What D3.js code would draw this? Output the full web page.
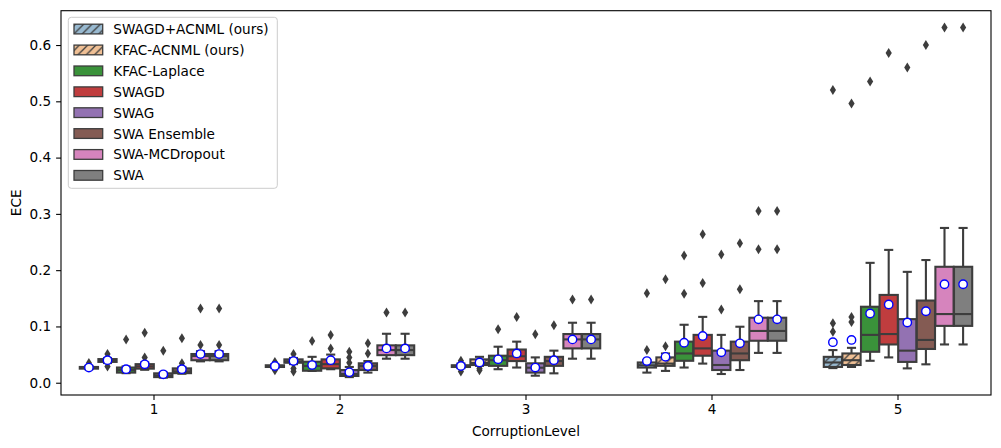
<!DOCTYPE html>
<html><head><meta charset="utf-8">
<script src="https://cdn.jsdelivr.net/npm/d3@7"></script>
<style>body{margin:0;background:#fff}svg{display:block}text{font-family:"DejaVu Sans",sans-serif}</style>
</head><body><svg id="c" width="1001" height="448"></svg>
<script>
const levels = ["1","2","3","4","5"];
const methods = ["SWAGD+ACNML (ours)","KFAC-ACNML (ours)","KFAC-Laplace","SWAGD","SWAG","SWA Ensemble","SWA-MCDropout","SWA"];
const colors = ["#98b9d0","#f0c095","#3a923a","#c03d3e","#9372b2","#845b53","#d684bd","#7f7f7f"];
const hatched = [true,true,false,false,false,false,false,false];
const yTicks = [0.0,0.1,0.2,0.3,0.4,0.5,0.6];

// rows = methods, columns = corruption levels 1..5
const whiskLo = [
 [0.024,0.026,0.026,0.018,0.026],
 [0.035,0.033,0.030,0.021,0.028],
 [0.017,0.021,0.024,0.027,0.039],
 [0.023,0.024,0.027,0.034,0.045],
 [0.009,0.010,0.0125,0.0155,0.0255],
 [0.016,0.018,0.0167,0.0226,0.0327],
 [0.038,0.0427,0.0427,0.053,0.068],
 [0.038,0.0427,0.0427,0.053,0.068]];
const q1 = [
 [0.025,0.028,0.028,0.027,0.028],
 [0.037,0.0355,0.0315,0.030,0.0315],
 [0.018,0.0213,0.030,0.039,0.055],
 [0.025,0.0255,0.0385,0.048,0.068],
 [0.010,0.012,0.018,0.0226,0.037],
 [0.017,0.0226,0.030,0.040,0.060],
 [0.040,0.049,0.061,0.0746,0.101],
 [0.040,0.049,0.061,0.0746,0.101]];
const median = [
 [0.0265,0.0295,0.030,0.031,0.036],
 [0.039,0.038,0.035,0.034,0.040],
 [0.0226,0.0297,0.040,0.052,0.085],
 [0.029,0.033,0.047,0.061,0.0865],
 [0.013,0.0155,0.0267,0.0315,0.057],
 [0.020,0.0297,0.0385,0.052,0.076],
 [0.0474,0.058,0.077,0.092,0.122],
 [0.0474,0.058,0.077,0.092,0.122]];
const q3 = [
 [0.028,0.031,0.031,0.036,0.046],
 [0.042,0.0415,0.0415,0.045,0.052],
 [0.027,0.0373,0.048,0.073,0.135],
 [0.033,0.0415,0.059,0.085,0.156],
 [0.0167,0.0226,0.0345,0.057,0.113],
 [0.0255,0.0345,0.046,0.073,0.146],
 [0.051,0.0664,0.0865,0.1155,0.206],
 [0.051,0.0664,0.0865,0.1155,0.206]];
const whiskHi = [
 [0.030,0.033,0.034,0.040,0.058],
 [0.044,0.044,0.046,0.052,0.062],
 [0.029,0.046,0.064,0.103,0.213],
 [0.036,0.050,0.073,0.117,0.236],
 [0.018,0.028,0.045,0.085,0.197],
 [0.028,0.0385,0.057,0.0995,0.218],
 [0.056,0.087,0.1066,0.145,0.275],
 [0.056,0.087,0.1066,0.145,0.275]];
const means = [
 [0.027,0.0297,0.0297,0.0385,0.072],
 [0.040,0.0385,0.036,0.046,0.076],
 [0.024,0.0314,0.0415,0.071,0.123],
 [0.0327,0.040,0.052,0.083,0.139],
 [0.015,0.0185,0.027,0.054,0.107],
 [0.024,0.0297,0.040,0.070,0.127],
 [0.051,0.061,0.077,0.1126,0.175],
 [0.051,0.061,0.077,0.1126,0.175]];
const outliers = [
 [[0.035],[0.037,0.022],[0.039,0.020],[0.058,0.159],[0.0906,0.1055,0.52]],
 [[0.051,0.029],[0.051,0.0255,0.020],[0.0255,0.022],[0.065,0.184],[0.108,0.117,0.496]],
 [[0.077],[0.074],[0.095],[0.158,0.226],[0.535]],
 [[0.045,0.089],[0.061,0.085],[0.117],[0.177,0.264],[0.586]],
 [[0.057],[0.0355,0.045,0.055],[0.086],[0.130,0.228],[0.560]],
 [[0.0345,0.079],[0.052,0.070],[0.102],[0.166,0.248],[0.600]],
 [[0.067,0.132],[0.125],[0.148],[0.237,0.305],[0.631]],
 [[0.067,0.132],[0.125],[0.148],[0.237,0.305],[0.631]]];

const L = 61, R = 991, T = 10.7, B = 395;
const svg = d3.select("#c");
svg.append("rect").attr("width",1001).attr("height",448).attr("fill","#fff");
const defs = svg.append("defs");
const hs = 8.3;
const pat = defs.append("pattern").attr("id","hatch").attr("patternUnits","userSpaceOnUse")
  .attr("width",hs).attr("height",hs);
pat.append("path").attr("d",`M0,${hs} L${hs},0 M${-hs/2},${hs/2} L${hs/2},${-hs/2} M${hs/2},${hs*1.5} L${hs*1.5},${hs/2}`)
  .attr("stroke","#3d3d3d").attr("stroke-width",1.3);

const x = d3.scaleBand().domain(levels).range([L,R]).padding(0);
const y = d3.scaleLinear().domain([-0.0218,0.661]).range([B,T]);
const sub = d3.scaleBand().domain(methods).range([-0.4,0.4]);
const cat = x.bandwidth();
const bw = sub.bandwidth()*cat*0.98;
const edge = "#3d3d3d";
const g = svg.append("g");

methods.forEach((m,mi)=>{
  levels.forEach((lv,li)=>{
    const cx = x(lv)+cat/2 + (sub(m)+sub.bandwidth()/2)*cat;
    const gg = g.append("g");
    gg.append("line").attr("x1",cx).attr("x2",cx).attr("y1",y(q3[mi][li])).attr("y2",y(whiskHi[mi][li]))
      .attr("stroke",edge).attr("stroke-width",2.1);
    gg.append("line").attr("x1",cx).attr("x2",cx).attr("y1",y(q1[mi][li])).attr("y2",y(whiskLo[mi][li]))
      .attr("stroke",edge).attr("stroke-width",2.1);
    [whiskHi[mi][li],whiskLo[mi][li]].forEach(v=>{
      gg.append("line").attr("x1",cx-bw/4).attr("x2",cx+bw/4).attr("y1",y(v)).attr("y2",y(v))
        .attr("stroke",edge).attr("stroke-width",2.1);
    });
    const ry = y(q3[mi][li]), rh = Math.max(0.01, y(q1[mi][li])-y(q3[mi][li]));
    gg.append("rect").attr("x",cx-bw/2).attr("y",ry).attr("width",bw).attr("height",rh)
      .attr("fill",colors[mi]).attr("stroke","none");
    if (hatched[mi]) gg.append("rect").attr("x",cx-bw/2).attr("y",ry).attr("width",bw).attr("height",rh)
      .attr("fill","url(#hatch)");
    gg.append("rect").attr("x",cx-bw/2).attr("y",ry).attr("width",bw).attr("height",rh)
      .attr("fill","none").attr("stroke",edge).attr("stroke-width",2.1);
    gg.append("line").attr("x1",cx-bw/2).attr("x2",cx+bw/2).attr("y1",y(median[mi][li])).attr("y2",y(median[mi][li]))
      .attr("stroke",edge).attr("stroke-width",2.1);
    outliers[mi][li].forEach(v=>{
      const py = y(v);
      gg.append("path").attr("d",`M${cx},${py-5} L${cx+3.1},${py} L${cx},${py+5} L${cx-3.1},${py} Z`)
        .attr("fill",edge);
    });
    gg.append("circle").attr("cx",cx).attr("cy",y(means[mi][li])).attr("r",4.2)
      .attr("fill","#fff").attr("stroke","#0000ff").attr("stroke-width",1.4);
  });
});

// axes
const fs = "13.6px";
const yAxis = svg.append("g").attr("transform",`translate(${L},0)`)
  .call(d3.axisLeft(y).tickValues(yTicks).tickFormat(d3.format(".1f")).tickSize(4.9).tickPadding(4.9));
const xAxis = svg.append("g").attr("transform",`translate(0,${B})`)
  .call(d3.axisBottom(x).tickSize(4.9).tickPadding(4.9));
[yAxis,xAxis].forEach(a=>{
  a.select(".domain").remove();
  a.selectAll(".tick line").attr("stroke","#000").attr("stroke-width",1.1);
  a.selectAll(".tick text").attr("fill","#000").style("font-size",fs).style("font-family","DejaVu Sans");
});
svg.append("rect").attr("x",L).attr("y",T).attr("width",R-L).attr("height",B-T)
  .attr("fill","none").attr("stroke","#000").attr("stroke-width",1.1);

svg.append("text").attr("x",(L+R)/2).attr("y",436).attr("text-anchor","middle").style("font-size",fs).text("CorruptionLevel");
svg.append("text").attr("transform",`translate(21,${(T+B)/2}) rotate(-90)`).attr("text-anchor","middle").style("font-size",fs).text("ECE");

// legend
const lg = svg.append("g");
lg.append("rect").attr("x",68.3).attr("y",17.3).attr("width",209).attr("height",171).attr("rx",3)
  .attr("fill","#fff").attr("fill-opacity",0.8).attr("stroke","#cccccc").attr("stroke-width",1);
methods.forEach((m,i)=>{
  const yy = 29 + i*20.9;
  lg.append("rect").attr("x",74).attr("y",yy-4.8).attr("width",28.7).attr("height",9.7).attr("fill",colors[i]);
  if (hatched[i]) lg.append("rect").attr("x",74).attr("y",yy-4.8).attr("width",28.7).attr("height",9.7).attr("fill","url(#hatch)");
  lg.append("rect").attr("x",74).attr("y",yy-4.8).attr("width",28.7).attr("height",9.7).attr("fill","none")
    .attr("stroke",edge).attr("stroke-width",1.3);
  lg.append("text").attr("x",113.3).attr("y",yy+5).style("font-size",fs).attr("fill","#000").text(m);
});
</script></body></html>
